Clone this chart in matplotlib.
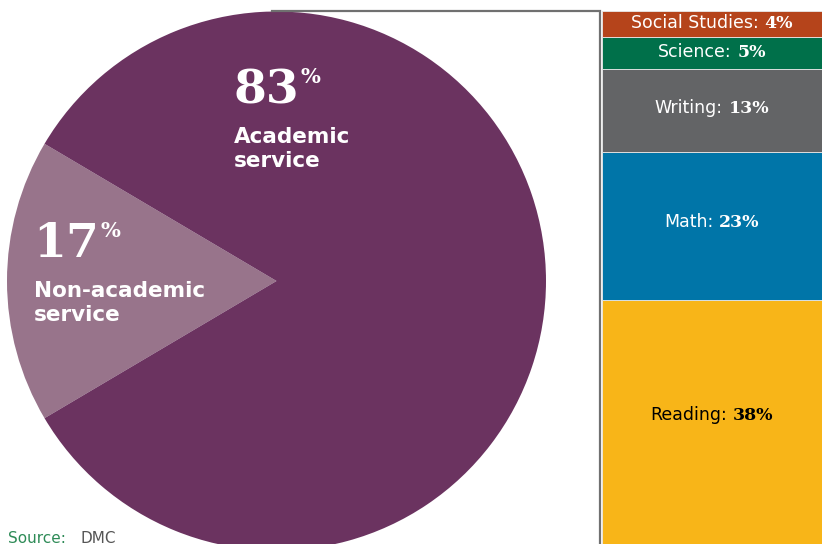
import matplotlib
matplotlib.use('Agg')
import matplotlib.pyplot as plt
from matplotlib.offsetbox import TextArea, HPacker, AnnotationBbox

# service split
pie_labels = ['Non-academic\nservice', 'Academic\nservice']
pie_values = [17, 83]
pie_colors = ['#98748b', '#6b3360']

# academic service by subject, bottom to top
subjects = ['Reading', 'Math', 'Writing', 'Science', 'Social Studies']
subject_values = [38, 23, 13, 5, 4]
subject_colors = ['#f8b518', '#0075a8', '#636466', '#00704a', '#b5441b']
subject_text = ['black', 'white', 'white', 'white', 'white']

W, H = 822, 544
fig = plt.figure(figsize=(W / 100, H / 100), dpi=100)
ax = fig.add_axes([0, 0, 1, 1])

half = pie_values[0] / 100 * 360 / 2
ax.pie(pie_values, colors=pie_colors, startangle=180 - half, counterclock=True,
       center=(276.5, 281), radius=269.5, wedgeprops=dict(linewidth=0))
ax.set_xlim(0, W)
ax.set_ylim(H, 0)
ax.set_aspect('equal')
ax.axis('off')

# connector from pie top to the bar
ax.plot([272, 600, 600], [11, 11, H + 5], color='#707070', lw=1.6,
        solid_joinstyle='miter', clip_on=False)


def big_label(x, y, value, text):
    num = TextArea(str(value), textprops=dict(color='white', fontsize=34,
                                              family='DejaVu Serif', weight='bold'))
    pct = TextArea('%', textprops=dict(color='white', fontsize=15,
                                       family='DejaVu Serif', weight='bold'))
    row = HPacker(children=[num, pct], align='top', pad=0, sep=1)
    ab = AnnotationBbox(row, (x, y), xycoords='data', frameon=False,
                        box_alignment=(0, 1), pad=0)
    ax.add_artist(ab)
    ax.text(x + 1, y + 60, text, color='white', fontsize=15.5, weight='bold',
            va='top', ha='left', linespacing=1.25)


big_label(233, 67, pie_values[1], pie_labels[1])
big_label(33, 221, pie_values[0], pie_labels[0])

ax.text(8, 531, 'Source:', color='#2e8b57', fontsize=11, va='top', ha='left')
ax.text(80, 531, 'DMC', color='#555555', fontsize=11, va='top', ha='left')

# stacked subject bar
bx = fig.add_axes([602 / W, 0, 220 / W, 533 / H])
bottom = 0
for name, val, col, tc in zip(subjects, subject_values, subject_colors, subject_text):
    bx.bar(0, val, bottom=bottom, width=1, color=col, edgecolor='#e8e8e8', linewidth=0.6)
    name_t = TextArea(name + ':', textprops=dict(color=tc, fontsize=12.5))
    val_t = TextArea(f'{val}%', textprops=dict(color=tc, fontsize=12.5,
                                               family='DejaVu Serif', weight='bold'))
    row = HPacker(children=[name_t, val_t], align='baseline', pad=0, sep=4)
    yc = bottom + val / 2 + (val * 0.03)
    bx.add_artist(AnnotationBbox(row, (0, yc), xycoords='data', frameon=False,
                                 box_alignment=(0.5, 0.5), pad=0))
    bottom += val
bx.set_xlim(-0.5, 0.5)
bx.set_ylim(0, sum(subject_values))
bx.axis('off')

fig.savefig('out.png', dpi=100)
